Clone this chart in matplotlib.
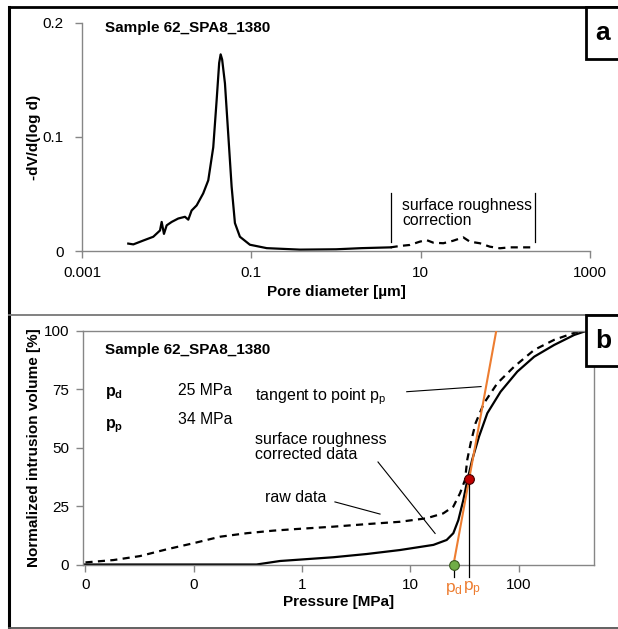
import matplotlib
matplotlib.use("Agg")
import matplotlib.pyplot as plt
from matplotlib.lines import Line2D
from matplotlib.patches import Rectangle

plt.rcParams["font.family"] = ["Liberation Sans", "DejaVu Sans"]
plt.rcParams["mathtext.fontset"] = "custom"
plt.rcParams["mathtext.rm"] = "Liberation Sans"
plt.rcParams["mathtext.bf"] = "Liberation Sans:bold"
plt.rcParams["mathtext.it"] = "Liberation Sans:italic"

# ── Panel a: pore size distribution ─────────────────────────────────────────
diam_solid = [0.00352, 0.00404, 0.0053, 0.00695, 0.00834, 0.00873, 0.00929,
              0.0100, 0.01146, 0.0137, 0.01644, 0.0180, 0.0197, 0.0226,
              0.0270, 0.0310, 0.0355, 0.0389, 0.0417, 0.0434, 0.0452, 0.0488,
              0.0533, 0.0585, 0.0640, 0.0733, 0.0962, 0.152, 0.375, 1.0, 2.0, 4.42]
dvdlogd_solid = [0.0065, 0.0058, 0.0092, 0.0125, 0.0180, 0.0255, 0.0150,
                 0.0225, 0.0255, 0.0285, 0.0300, 0.0275, 0.0355, 0.0400,
                 0.0505, 0.0620, 0.0910, 0.1320, 0.1650, 0.1725, 0.1680, 0.1470,
                 0.1030, 0.0565, 0.0245, 0.0125, 0.0055, 0.0025, 0.0012, 0.0015,
                 0.0025, 0.0032]
diam_rough = [4.42, 5.68, 7.45, 9.77, 11.7, 14.1, 18.5, 24.2, 31.8, 38.1,
              50.0, 65.6, 86.1, 113, 148, 204]
dvdlogd_rough = [0.0032, 0.0044, 0.0053, 0.0082, 0.0096, 0.0073, 0.0068,
                 0.0090, 0.0120, 0.0082, 0.0068, 0.0038, 0.0024, 0.0032,
                 0.0032, 0.0032]
rough_limits = [4.45, 224]

# ── Panel b: intrusion curves ───────────────────────────────────────────────
p_corr = [0.0095, 0.38, 0.625, 0.957, 1.94, 3.96, 8.02, 16.3, 21.6, 24.9,
          27.7, 30.8, 33.1, 37.2, 43.0, 51.3, 68.0, 97.0, 139, 212, 325, 417]
v_corr = [0.0, 0.0, 1.5, 2.1, 3.1, 4.5, 6.2, 8.4, 10.5, 13.4,
          19.0, 27.6, 34.8, 44.9, 54.8, 64.8, 74.0, 82.6, 89.0, 94.0, 98.3, 100.0]
p_raw = [0.0100, 0.0181, 0.0318, 0.0562, 0.0989, 0.175, 0.308, 0.542, 0.891,
         1.94, 3.96, 8.02, 14.1, 20.1, 24.9, 28.7, 31.9, 33.5, 36.0, 40.0,
         47.8, 63.4, 90.6, 139, 212, 349, 417]
v_raw = [0.9, 1.9, 3.6, 6.5, 9.1, 11.9, 13.4, 14.5, 15.2,
         16.2, 17.3, 18.3, 19.8, 21.9, 24.8, 30.5, 36.2, 44.9, 52.0, 60.6,
         69.1, 77.6, 84.7, 91.9, 96.2, 99.7, 100.0]
tangent_p = [25, 62]
tangent_v = [0, 100]
p_d, p_p = 25, 34
pp_mark = (35, 36.5)

W, H = 618, 629


def fx(x):
    return x / W


def fy(y):
    return 1 - y / H


ORANGE = "#ED7D31"
GREY = "#868686"
FS = 11

fig = plt.figure(figsize=(W / 100, H / 100), dpi=100)

# panel a
ax1 = fig.add_axes([fx(82), fy(251), 508 / W, 228 / H])
ax1.plot(diam_solid, dvdlogd_solid, color="black", lw=1.6)
ax1.plot(diam_rough, dvdlogd_rough, color="black", lw=1.6, dashes=(3.2, 2.4))
ax1.set_xscale("log")
ax1.set_xlim(0.001, 1000)
ax1.set_ylim(0, 0.2)
ax1.set_xticks([0.001, 0.1, 10, 1000])
ax1.set_xticklabels(["0.001", "0.1", "10", "1000"])
ax1.xaxis.set_minor_locator(matplotlib.ticker.NullLocator())
ax1.set_yticks([0, 0.1, 0.2])
ax1.set_yticklabels(["0", "0.1", "0.2"])
for s in ["top", "right"]:
    ax1.spines[s].set_visible(False)
for s in ["left", "bottom"]:
    ax1.spines[s].set_color(GREY)
    ax1.spines[s].set_linewidth(1.0)
ax1.tick_params(axis="both", colors=GREY, labelcolor="black", labelsize=FS,
                length=5, width=1.0, direction="out")
ax1.tick_params(axis="x", pad=6)
ax1.tick_params(axis="y", pad=8)
ax1.set_xlabel("Pore diameter [\u00b5m]", fontsize=FS, fontweight="bold")
ax1.xaxis.set_label_coords(0.5, -0.15)
ax1.set_ylabel("-dV/d(log d)", fontsize=FS, fontweight="bold")
ax1.yaxis.set_label_coords(-0.081, 0.5)
ax1.text(0.045, 0.978, "Sample 62_SPA8_1380", transform=ax1.transAxes,
         fontsize=FS, fontweight="bold", va="center", ha="left")
for xl in rough_limits:
    ax1.plot([xl, xl], [0.0079, 0.0509], color="black", lw=0.9)
ax1.text(6.0, 0.0333, "surface roughness\ncorrection", fontsize=11.3,
         ha="left", va="center", linespacing=1.0)

# panel b
ax2 = fig.add_axes([fx(83), fy(564.5), 511 / W, 233.5 / H])
ax2.plot(p_raw, v_raw, color="black", lw=1.6, dashes=(3.2, 2.4))
ax2.plot(p_corr, v_corr, color="black", lw=1.6)
ax2.plot(tangent_p, tangent_v, color=ORANGE, lw=1.5, zorder=3)
ax2.set_xscale("log")
ax2.set_xlim(10 ** -2.023, 10 ** 2.695)
ax2.set_ylim(0, 100)
ax2.set_xticks([0.01, 0.1, 1, 10, 100])
ax2.set_xticklabels(["0", "0", "1", "10", "100"])
ax2.xaxis.set_minor_locator(matplotlib.ticker.NullLocator())
ax2.set_yticks([0, 25, 50, 75, 100])
for s in ax2.spines.values():
    s.set_color(GREY)
    s.set_linewidth(1.0)
ax2.tick_params(axis="both", colors=GREY, labelcolor="black", labelsize=FS,
                length=5, width=1.0, direction="out")
ax2.tick_params(axis="x", pad=5)
ax2.tick_params(axis="y", pad=5)
ax2.set_xlabel("Pressure [MPa]", fontsize=FS, fontweight="bold")
ax2.xaxis.set_label_coords(0.5, -0.13)
ax2.set_ylabel("Normalized intrusion volume [%]", fontsize=FS, fontweight="bold")
ax2.yaxis.set_label_coords(-0.082, 0.5)

# pd / pp markers and drop lines
ax2.plot([p_d, p_d], [0, -5.4], color="black", lw=0.9, clip_on=False)
ax2.plot([pp_mark[0], pp_mark[0]], [pp_mark[1], -5.4], color="black", lw=0.9,
         clip_on=False, zorder=3)
ax2.plot([p_d], [0], "o", ms=7, mfc="#70AD47", mec="#3A5A20", mew=0.8,
         clip_on=False, zorder=5)
ax2.plot([pp_mark[0]], [pp_mark[1]], "o", ms=7, mfc="#C00000", mec="#400000",
         mew=0.8, zorder=5)
ax2.text(p_d, -10.5, r"$\mathrm{p}_\mathrm{d}$", color=ORANGE, fontsize=12.5,
         ha="center", va="center")
ax2.text(pp_mark[0] * 1.05, -10.5, r"$\mathrm{p}_\mathrm{p}$", color=ORANGE,
         fontsize=12.5, ha="center", va="center")

# text block
ax2.text(0.043, 0.919, "Sample 62_SPA8_1380", transform=ax2.transAxes,
         fontsize=FS, fontweight="bold", va="center")
ax2.text(0.043, 0.735, r"$\mathbf{p}_\mathbf{d}$", transform=ax2.transAxes,
         fontsize=11.5, va="center")
ax2.text(0.186, 0.747, "25 MPa", transform=ax2.transAxes, fontsize=11.3,
         va="center")
ax2.text(0.043, 0.592, r"$\mathbf{p}_\mathbf{p}$", transform=ax2.transAxes,
         fontsize=11.5, va="center")
ax2.text(0.186, 0.619, "34 MPa", transform=ax2.transAxes, fontsize=11.3,
         va="center")

# annotations with leader lines
ax2.text(0.337, 0.717, r"tangent to point p$_\mathrm{p}$", transform=ax2.transAxes,
         fontsize=11.5, va="center")
ax2.plot([9.25, 44.9], [74.0, 76.2], color="black", lw=0.8)
ax2.text(0.337, 0.503, "surface roughness\ncorrected data", transform=ax2.transAxes,
         fontsize=11.5, va="center", linespacing=1.0)
ax2.plot([5.02, 16.9], [43.9, 13.3], color="black", lw=0.8)
ax2.text(0.356, 0.285, "raw data", transform=ax2.transAxes, fontsize=11.5,
         va="center")
ax2.plot([2.01, 5.24], [26.8, 21.6], color="black", lw=0.8)

# frame lines and panel label boxes
fig.add_artist(Line2D([fx(9), fx(9)], [fy(7), fy(628)], color="black", lw=2.2,
                      transform=fig.transFigure))
fig.add_artist(Line2D([fx(9), fx(618)], [fy(7), fy(7)], color="black", lw=2.0,
                      transform=fig.transFigure))
fig.add_artist(Line2D([fx(9), fx(618)], [fy(315), fy(315)], color="#777777", lw=1.3,
                      transform=fig.transFigure))
fig.add_artist(Line2D([fx(9), fx(618)], [fy(628), fy(628)], color="#555555", lw=1.3,
                      transform=fig.transFigure))
for label, top, bottom in [("a", 7, 59), ("b", 315, 366)]:
    fig.add_artist(Rectangle((fx(586), fy(bottom)), fx(40), (bottom - top) / H,
                             facecolor="white", edgecolor="black", lw=2.0,
                             transform=fig.transFigure, zorder=10))
    fig.text(fx(603), fy((top + bottom) / 2), label, fontsize=19,
             fontweight="bold", ha="center", va="center", zorder=11)

fig.savefig("out.png", dpi=100)
